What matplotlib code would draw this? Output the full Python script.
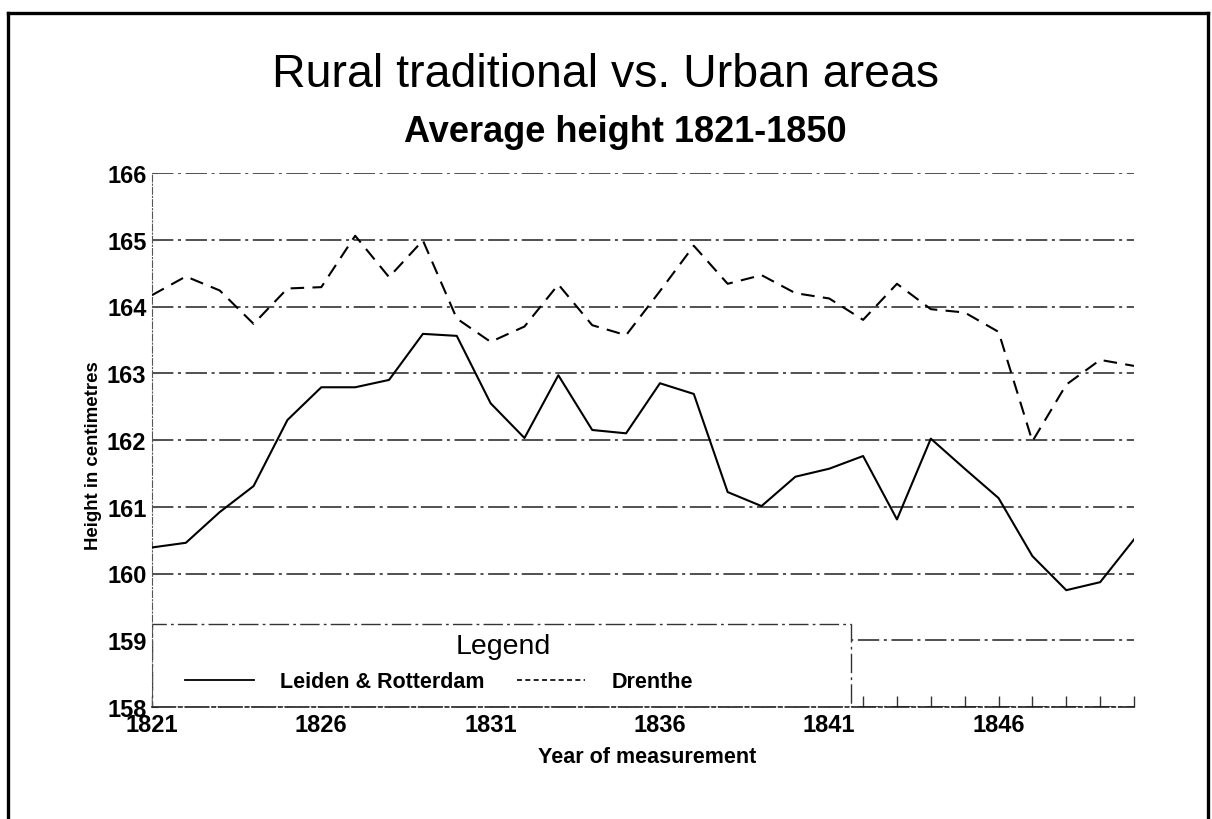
import matplotlib
matplotlib.use("Agg")
import matplotlib.pyplot as plt
from matplotlib.lines import Line2D
from matplotlib.patches import Rectangle
from matplotlib.ticker import FixedLocator, NullFormatter

plt.rcParams['font.family'] = ['Liberation Sans', 'DejaVu Sans']

years = [1821, 1822, 1823, 1824, 1825, 1826, 1827, 1828, 1829, 1830,
         1831, 1832, 1833, 1834, 1835, 1836, 1837, 1838, 1839, 1840,
         1841, 1842, 1843, 1844, 1845, 1846, 1847, 1848, 1849, 1850]

leiden_rotterdam = [160.39, 160.46, 160.92, 161.31, 162.30, 162.79, 162.79, 162.90, 163.59, 163.56,
                    162.55, 162.03, 162.97, 162.15, 162.10, 162.85, 162.69, 161.22, 161.01, 161.45,
                    161.57, 161.76, 160.81, 162.02, 161.57, 161.13, 160.26, 159.75, 159.87, 160.51]

drenthe = [164.17, 164.45, 164.24, 163.74, 164.27, 164.29, 165.06, 164.44, 164.99, 163.82,
           163.47, 163.70, 164.33, 163.72, 163.57, 164.23, 164.91, 164.34, 164.47, 164.20,
           164.12, 163.80, 164.34, 163.96, 163.91, 163.62, 161.98, 162.83, 163.20, 163.11]

x_major_ticks = [1821, 1826, 1831, 1836, 1841, 1846]
y_ticks = [158, 159, 160, 161, 162, 163, 164, 165, 166]

title = "Rural traditional vs. Urban areas"
subtitle = "Average height 1821-1850"
xlabel = "Year of measurement"
ylabel = "Height in centimetres"
legend_title = "Legend"
series_names = ["Leiden & Rotterdam", "Drenthe"]

fig = plt.figure(figsize=(12.12, 8.2), dpi=100)
ax = fig.add_axes([152 / 1212, 1 - 708 / 820, 982 / 1212, 534 / 820])

ax.set_xlim(years[0], years[-1])
ax.set_ylim(y_ticks[0], y_ticks[-1])

ax.plot(years, leiden_rotterdam, color='black', lw=1.5, ls='-', zorder=3)
ax.plot(years, drenthe, color='black', lw=1.5, ls=(0, (6.5, 4)), zorder=3)

# grid
ax.set_axisbelow(True)
ax.yaxis.grid(True, color='#202020', lw=1.1, ls=(0, (14, 3, 2, 3)))
ax.xaxis.grid(False)

for s in ['top', 'right']:
    ax.spines[s].set_visible(False)
ax.spines['left'].set_linestyle((0, (6, 2, 1, 2)))
ax.spines['left'].set_linewidth(0.8)
ax.spines['left'].set_color('#555555')
ax.spines['bottom'].set_linestyle((0, (14, 2, 2, 2)))
ax.spines['bottom'].set_linewidth(1.2)
ax.spines['bottom'].set_color('#222222')

ax.xaxis.set_major_locator(FixedLocator(x_major_ticks))
ax.xaxis.set_minor_locator(FixedLocator(years))
ax.xaxis.set_minor_formatter(NullFormatter())
ax.set_xticklabels([str(t) for t in x_major_ticks])
ax.yaxis.set_major_locator(FixedLocator(y_ticks))
ax.set_yticklabels([str(t) for t in y_ticks])

ax.tick_params(axis='x', which='both', direction='in', length=8, width=1.0, color='#333333',
               labelsize=17, pad=4)
ax.tick_params(axis='y', which='both', direction='in', length=4, width=0.8, color='#555555',
               labelsize=17, pad=4)
for lab in ax.get_xticklabels() + ax.get_yticklabels():
    lab.set_fontweight('bold')

ax.set_xlabel(xlabel, fontsize=15.5, fontweight='bold')
ax.xaxis.set_label_coords((647 - 152) / 982, (708 - 758) / 534)
ax.set_ylabel(ylabel, fontsize=13.4, fontweight='bold')
ax.yaxis.set_label_coords((93 - 152) / 982, (708 - 456) / 534)
ax.yaxis.label.set_va('center')
ax.xaxis.label.set_va('center')

# legend box
box = Rectangle((0, 0), (851 - 152) / 982, (708 - 625) / 534, transform=ax.transAxes,
                facecolor='white', edgecolor='#333333', lw=1.0, ls=(0, (14, 3, 2, 3)), zorder=1.5)
ax.add_patch(box)
ax.text((503 - 152) / 982, (708 - 647) / 534, legend_title, transform=ax.transAxes,
        fontsize=20.5, ha='center', va='center', zorder=4)
handles = [Line2D([], [], color='black', lw=1.3, ls='-'),
           Line2D([], [], color='black', lw=1.2, ls=(0, (3, 2)))]
leg = ax.legend(handles, series_names, loc='center left',
                bbox_to_anchor=((185 - 152) / 982, (708 - 683) / 534),
                ncol=2, frameon=False, borderpad=0, borderaxespad=0,
                prop={'size': 15.5, 'weight': 'bold'},
                handlelength=3.2, handletextpad=1.2, columnspacing=1.5)
leg.set_zorder(4)

fig.text(606 / 1212, 1 - 75 / 820, title, fontsize=33.5, ha='center', va='center')
fig.text(625 / 1212, 1 - 133 / 820, subtitle, fontsize=26, fontweight='bold', ha='center', va='center')

# outer border
bl, bt, br = 8 / 1212, 1 - 14 / 820, 1208 / 1212
fig.add_artist(Line2D([bl, bl], [0, bt], transform=fig.transFigure, color='black', lw=2.4))
fig.add_artist(Line2D([bl, br], [bt, bt], transform=fig.transFigure, color='black', lw=2.4))
fig.add_artist(Line2D([br, br], [0, bt], transform=fig.transFigure, color='black', lw=2.4))

fig.savefig("out.png", dpi=100)
